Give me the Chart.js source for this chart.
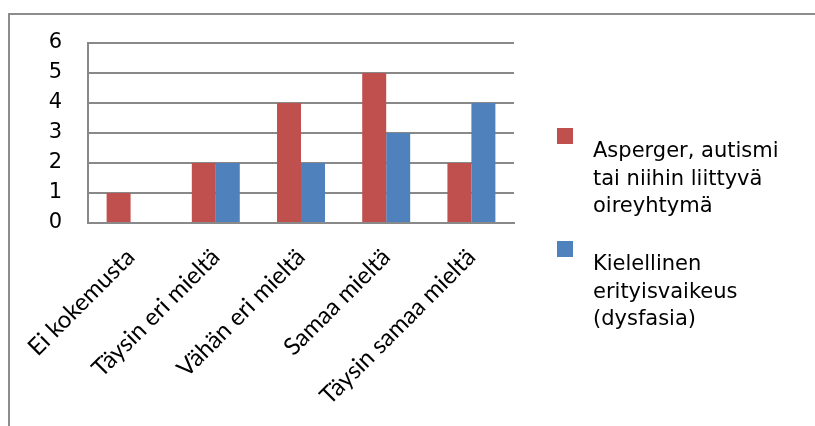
<!DOCTYPE html>
<html>
<head>
<meta charset="utf-8">
<script src="https://cdn.jsdelivr.net/npm/chart.js@4.4.1/dist/chart.umd.min.js"></script>
<style>
  html, body { margin: 0; padding: 0; background: #fff; }
  #wrap { width: 815px; height: 426px; position: relative; }
</style>
</head>
<body>
<div id="wrap"><canvas id="c" width="815" height="426"></canvas></div>
<script>
// Survey answers per response category
const categories = ['Ei kokemusta', 'Täysin eri mieltä', 'Vähän eri mieltä', 'Samaa mieltä', 'Täysin samaa mieltä'];
const aspergerValues = [1, 2, 4, 5, 2];
const dysfasiaValues = [0, 2, 2, 3, 4];
const aspergerLabel = ['Asperger, autismi', 'tai niihin liittyvä', 'oireyhtymä'];
const dysfasiaLabel = ['Kielellinen', 'erityisvaikeus', '(dysfasia)'];
const yTicks = [0, 1, 2, 3, 4, 5, 6];

const RED = '#C0504D';
const BLUE = '#4F81BD';
const GRID = '#898989';

// Outer frame (top and left edges of the chart box)
const framePlugin = {
  id: 'frame',
  beforeDraw(chart) {
    const ctx = chart.ctx;
    ctx.save();
    ctx.strokeStyle = '#8c8c8c';
    ctx.lineWidth = 2;
    ctx.beginPath();
    ctx.moveTo(9, 426);
    ctx.lineTo(9, 14);
    ctx.lineTo(815, 14);
    ctx.stroke();
    ctx.restore();
  }
};

// Legend on the right: square swatch above a multi-line label
const sideLegend = {
  id: 'sideLegend',
  afterDraw(chart) {
    const ctx = chart.ctx;
    ctx.save();
    ctx.font = '21px "DejaVu Sans"';
    ctx.textBaseline = 'alphabetic';
    ctx.textAlign = 'left';
    const groups = [
      { ds: 0, top: 128 },
      { ds: 1, top: 241 }
    ];
    groups.forEach(g => {
      const ds = chart.data.datasets[g.ds];
      ctx.fillStyle = ds.backgroundColor;
      ctx.fillRect(557, g.top, 16, 16);
      ctx.fillStyle = '#000';
      ds.legendLines.forEach((line, i) => {
        ctx.fillText(line, 593, g.top + 29 + i * 27.5);
      });
    });
    ctx.restore();
  }
};

new Chart(document.getElementById('c'), {
  type: 'bar',
  data: {
    labels: categories,
    datasets: [
      { label: aspergerLabel.join(' '), legendLines: aspergerLabel, data: aspergerValues, backgroundColor: RED },
      { label: dysfasiaLabel.join(' '), legendLines: dysfasiaLabel, data: dysfasiaValues, backgroundColor: BLUE }
    ]
  },
  plugins: [framePlugin, sideLegend],
  options: {
    responsive: false,
    animation: false,
    devicePixelRatio: 1,
    layout: { padding: { left: 0, top: 43, right: 301, bottom: 0 } },
    plugins: { legend: { display: false }, tooltip: { enabled: false } },
    datasets: { bar: { categoryPercentage: 0.563, barPercentage: 1 } },
    scales: {
      x: {
        grid: { display: false, drawTicks: false },
        border: { display: true, color: GRID, width: 2 },
        ticks: {
          color: '#000',
          font: { family: 'Lato', size: 24 },
          minRotation: 45,
          maxRotation: 45,
          padding: 20
        },
        afterFit(s) { s.height = 426 - 223; }
      },
      y: {
        min: 0,
        max: 6,
        afterBuildTicks(s) { s.ticks = yTicks.map(v => ({ value: v })); },
        grid: { color: GRID, lineWidth: 2, drawTicks: false },
        border: { display: true, color: GRID, width: 2 },
        ticks: {
          color: '#000',
          font: { family: 'DejaVu Sans', size: 21 },
          padding: 26
        },
        afterFit(s) { s.width = 88; }
      }
    }
  }
});
</script>
</body>
</html>
